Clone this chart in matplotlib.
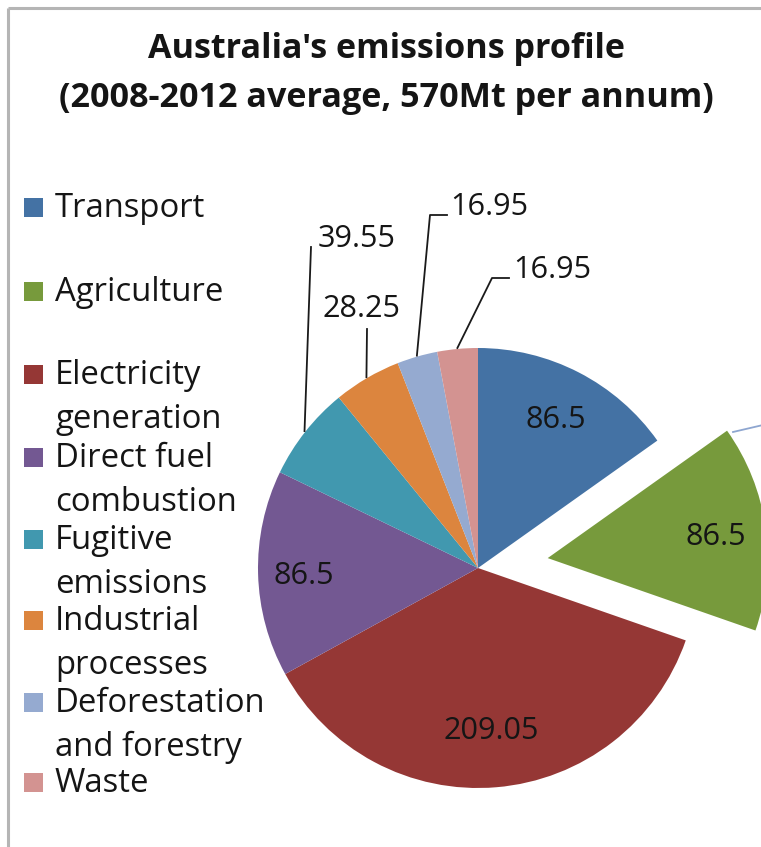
import matplotlib
matplotlib.use("Agg")
import matplotlib.pyplot as plt
from matplotlib.patches import Rectangle
import numpy as np

# Emission sectors (Mt CO2-e per annum, 2008-2012 average)
sectors = ["Transport", "Agriculture", "Electricity generation", "Direct fuel combustion",
           "Fugitive emissions", "Industrial processes", "Deforestation and forestry", "Waste"]
legend_lines = [["Transport"], ["Agriculture"], ["Electricity", "generation"],
                ["Direct fuel", "combustion"], ["Fugitive", "emissions"],
                ["Industrial", "processes"], ["Deforestation", "and forestry"], ["Waste"]]
values = [86.5, 86.5, 209.05, 86.5, 39.55, 28.25, 16.95, 16.95]
colors = ["#4472A4", "#779A3C", "#953735", "#735892", "#4198AF", "#DC853E", "#95AAD0", "#D39391"]
explode_frac = [0, 0.32, 0, 0, 0, 0, 0, 0]
title_lines = ["Australia's emissions profile", "(2008-2012 average, 570Mt per annum)"]

W, H = 761, 847
FONT = ["Open Sans", "DejaVu Sans"]
TXT = "#151515"

fig = plt.figure(figsize=(W / 100, H / 100), dpi=100)
ax = fig.add_axes([0, 0, 1, 1])
ax.set_xlim(0, W)
ax.set_ylim(0, H)
ax.axis("off")
renderer = fig.canvas.get_renderer()


def Y(y):
    return H - y


def fitted_size(s, width, **kw):
    """Font size (pt) at which string s spans `width` pixels."""
    t = ax.text(0, 0, s, fontsize=10, family=FONT, **kw)
    w = t.get_window_extent(renderer).width
    t.remove()
    return 10 * width / w


TITLE_FS = fitted_size(title_lines[1], 655, fontweight="bold")
LEG_FS = fitted_size("Deforestation", 211)
NUM_FS = fitted_size("209.05", 96)

# chart frame
ax.plot([8, W + 5], [Y(8), Y(8)], color="#b5b5b5", lw=2.2, solid_capstyle="butt")
ax.plot([8, 8], [Y(8), -5], color="#b5b5b5", lw=2.2, solid_capstyle="butt")

# title
for s, base in zip(title_lines, [58, 107]):
    ax.text(386, Y(base), s, ha="center", va="baseline",
            fontsize=TITLE_FS, fontweight="bold", family=FONT, color=TXT)

# pie (explode offsets are in data units, so scale by the radius)
cx, cy, R = 478, Y(568), 220
wedges, _ = ax.pie(values, colors=colors, startangle=90, counterclock=False,
                   explode=[f * R for f in explode_frac], center=(cx, cy), radius=R,
                   wedgeprops=dict(linewidth=0))
ax.set_xlim(0, W)
ax.set_ylim(0, H)
ax.set_aspect("auto")


def mid_angle(w):
    return np.deg2rad((w.theta1 + w.theta2) / 2)


# values printed inside the large slices
inside = {0: 0.77, 1: 0.77, 2: 0.73, 3: 0.79}
for i, frac in inside.items():
    w = wedges[i]
    a = mid_angle(w)
    x0, y0 = w.center
    ax.text(x0 + frac * R * np.cos(a), y0 + frac * R * np.sin(a) - 11, f"{values[i]:g}",
            ha="center", va="baseline", fontsize=NUM_FS, family=FONT, color=TXT)

# values for the thin slices, with leader lines (text: centre x, baseline y)
outside = {
    4: dict(text=(357, 247), bend=None, end=(311, 247)),
    5: dict(text=(361, 317), bend=None, end=(367, 329)),
    6: dict(text=(489, 215), bend=(430, 215), end=(447, 215)),
    7: dict(text=(552, 278), bend=(492, 278), end=(509, 278)),
}
for i, o in outside.items():
    w = wedges[i]
    a = mid_angle(w)
    x0, y0 = w.center
    sx, sy = x0 + (R + 1) * np.cos(a), y0 + (R + 1) * np.sin(a)
    xs, ys = [sx], [sy]
    if o["bend"] is not None:
        xs.append(o["bend"][0]); ys.append(Y(o["bend"][1]))
    xs.append(o["end"][0]); ys.append(Y(o["end"][1]))
    ax.plot(xs, ys, color="#1a1a1a", lw=1.3)
    ax.text(o["text"][0], Y(o["text"][1]), f"{values[i]:g}", ha="center", va="baseline",
            fontsize=NUM_FS, family=FONT, color=TXT)

# leader heading off to the right of the detached slice
ax.plot([733, W + 2], [Y(432), Y(425)], color="#8ea6d0", lw=1.3)

# legend (baseline of each entry's first line)
entry_base = [217, 301, 384, 467, 549, 630, 712, 792]
for lines, col, eb in zip(legend_lines, colors, entry_base):
    ax.add_patch(Rectangle((24, Y(eb)), 19, 19, facecolor=col, edgecolor="none"))
    for k, t in enumerate(lines):
        ax.text(55, Y(eb + 44 * k), t, ha="left", va="baseline", fontsize=LEG_FS,
                family=FONT, color=TXT)

fig.savefig("out.png", dpi=100)
